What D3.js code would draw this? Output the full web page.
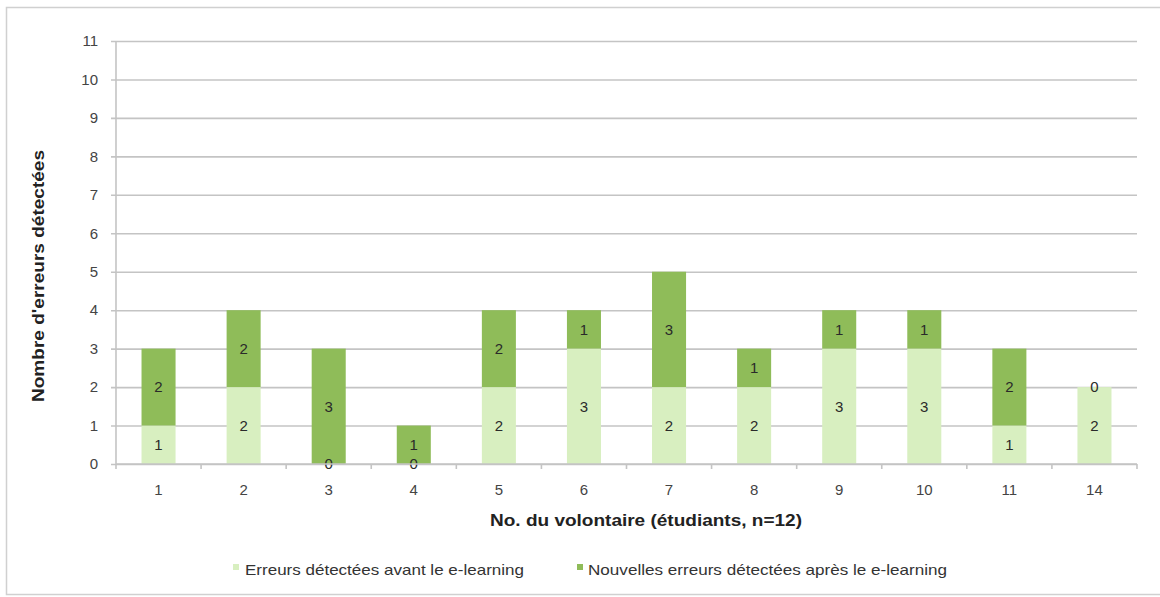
<!DOCTYPE html>
<html>
<head>
<meta charset="utf-8">
<script src="https://cdn.jsdelivr.net/npm/d3@7"></script>
<style>
  html, body { margin: 0; padding: 0; background: #fff; }
  svg { display: block; font-family: "Liberation Sans", Arial, sans-serif; }
</style>
</head>
<body>
<svg id="chart" width="1160" height="597"></svg>
<script>
// Volunteer numbers along the x axis
const volunteers = ["1", "2", "3", "4", "5", "6", "7", "8", "9", "10", "11", "14"];
// Errors detected before the e-learning module
const before = [1, 2, 0, 0, 2, 3, 2, 2, 3, 3, 1, 2];
// New errors detected after the e-learning module
const after = [2, 2, 3, 1, 2, 1, 3, 1, 1, 1, 2, 0];
// Series names shown in the legend
const seriesNames = ["Erreurs détectées avant le e-learning", "Nouvelles erreurs détectées après le e-learning"];
const seriesKeys = ["before", "after"];
const yTicks = d3.range(0, 12);

const colors = { before: "#d8efc0", after: "#8fbc59" };

const svg = d3.select("#chart");
const margin = { left: 116, right: 1137, top: 41, bottom: 464 };

// Outer frame
svg.append("rect")
  .attr("x", 6.5).attr("y", 7.5)
  .attr("width", 1170).attr("height", 587)
  .attr("fill", "none").attr("stroke", "#d0d0d0").attr("stroke-width", 1.5);

const table = volunteers.map((v, i) => ({ volunteer: v, before: before[i], after: after[i] }));
const stacked = d3.stack().keys(seriesKeys)(table);

const x = d3.scaleBand().domain(volunteers).range([margin.left, margin.right]).paddingInner(0.6).paddingOuter(0.3);
const y = d3.scaleLinear().domain([0, 11]).range([margin.bottom, margin.top]);

// Horizontal gridlines, with short tick stubs left of the axis
const yAxis = d3.axisLeft(y).tickValues(yTicks).tickSize(-(margin.right - margin.left)).tickPadding(18).tickFormat(d3.format("d"));
const gy = svg.append("g").attr("transform", `translate(${margin.left},0)`).call(yAxis);
gy.select(".domain").remove();
gy.selectAll(".tick line")
  .attr("x1", -5)
  .attr("stroke", "#c4c4c4").attr("stroke-width", 1.6);
gy.selectAll(".tick text")
  .attr("fill", "#444").attr("font-size", 15);

// Vertical axis line
svg.append("line")
  .attr("x1", margin.left).attr("x2", margin.left)
  .attr("y1", margin.top).attr("y2", margin.bottom)
  .attr("stroke", "#c4c4c4").attr("stroke-width", 1.6);

// Stacked bars
const layers = svg.append("g").selectAll("g").data(stacked).join("g")
  .attr("fill", d => colors[d.key]);
layers.selectAll("rect").data(d => d).join("rect")
  .attr("x", d => x(d.data.volunteer))
  .attr("width", x.bandwidth())
  .attr("y", d => y(d[1]))
  .attr("height", d => y(d[0]) - y(d[1]));

// Value labels centred in each segment
const labels = svg.append("g").attr("font-size", 15).attr("fill", "#2a2a2a").attr("text-anchor", "middle");
stacked.forEach(layer => {
  labels.selectAll(null).data(layer).join("text")
    .attr("x", d => x(d.data.volunteer) + x.bandwidth() / 2)
    .attr("y", d => (y(d[0]) + y(d[1])) / 2)
    .attr("dy", "0.36em")
    .text(d => d.data[layer.key]);
});

// Bottom axis with ticks between categories
const gx = svg.append("g").attr("transform", `translate(0,${margin.bottom})`);
gx.append("line")
  .attr("x1", margin.left).attr("x2", margin.right)
  .attr("stroke", "#c4c4c4").attr("stroke-width", 1.6);
const boundaries = d3.range(volunteers.length + 1).map(i => margin.left + i * (margin.right - margin.left) / volunteers.length);
gx.selectAll(".tk").data(boundaries).join("line")
  .attr("x1", d => d).attr("x2", d => d)
  .attr("y1", 0).attr("y2", 5)
  .attr("stroke", "#c4c4c4").attr("stroke-width", 1.6);
gx.selectAll(".lbl").data(volunteers).join("text")
  .attr("x", d => x(d) + x.bandwidth() / 2)
  .attr("y", 31)
  .attr("text-anchor", "middle")
  .attr("font-size", 15).attr("fill", "#444")
  .text(d => d);

// Axis titles
svg.append("text")
  .attr("x", 646).attr("y", 526)
  .attr("text-anchor", "middle")
  .attr("font-size", 17).attr("font-weight", "bold").attr("fill", "#222")
  .attr("textLength", 312).attr("lengthAdjust", "spacingAndGlyphs")
  .text("No. du volontaire (étudiants, n=12)");
svg.append("text")
  .attr("transform", "translate(44,276) rotate(-90)")
  .attr("text-anchor", "middle")
  .attr("font-size", 17).attr("font-weight", "bold").attr("fill", "#222")
  .attr("textLength", 252).attr("lengthAdjust", "spacingAndGlyphs")
  .text("Nombre d'erreurs détectées");

// Legend
const legendPos = [{ sx: 233, tx: 245, w: 279 }, { sx: 577, tx: 588, w: 359 }];
const legend = svg.append("g").selectAll("g").data(seriesKeys).join("g");
legend.append("rect")
  .attr("x", (d, i) => legendPos[i].sx).attr("y", 564)
  .attr("width", 6).attr("height", 6)
  .attr("fill", d => colors[d]);
legend.append("text")
  .attr("x", (d, i) => legendPos[i].tx).attr("y", 575)
  .attr("font-size", 15).attr("fill", "#333")
  .attr("textLength", (d, i) => legendPos[i].w)
  .attr("lengthAdjust", "spacingAndGlyphs")
  .text((d, i) => seriesNames[i]);
</script>
</body>
</html>
